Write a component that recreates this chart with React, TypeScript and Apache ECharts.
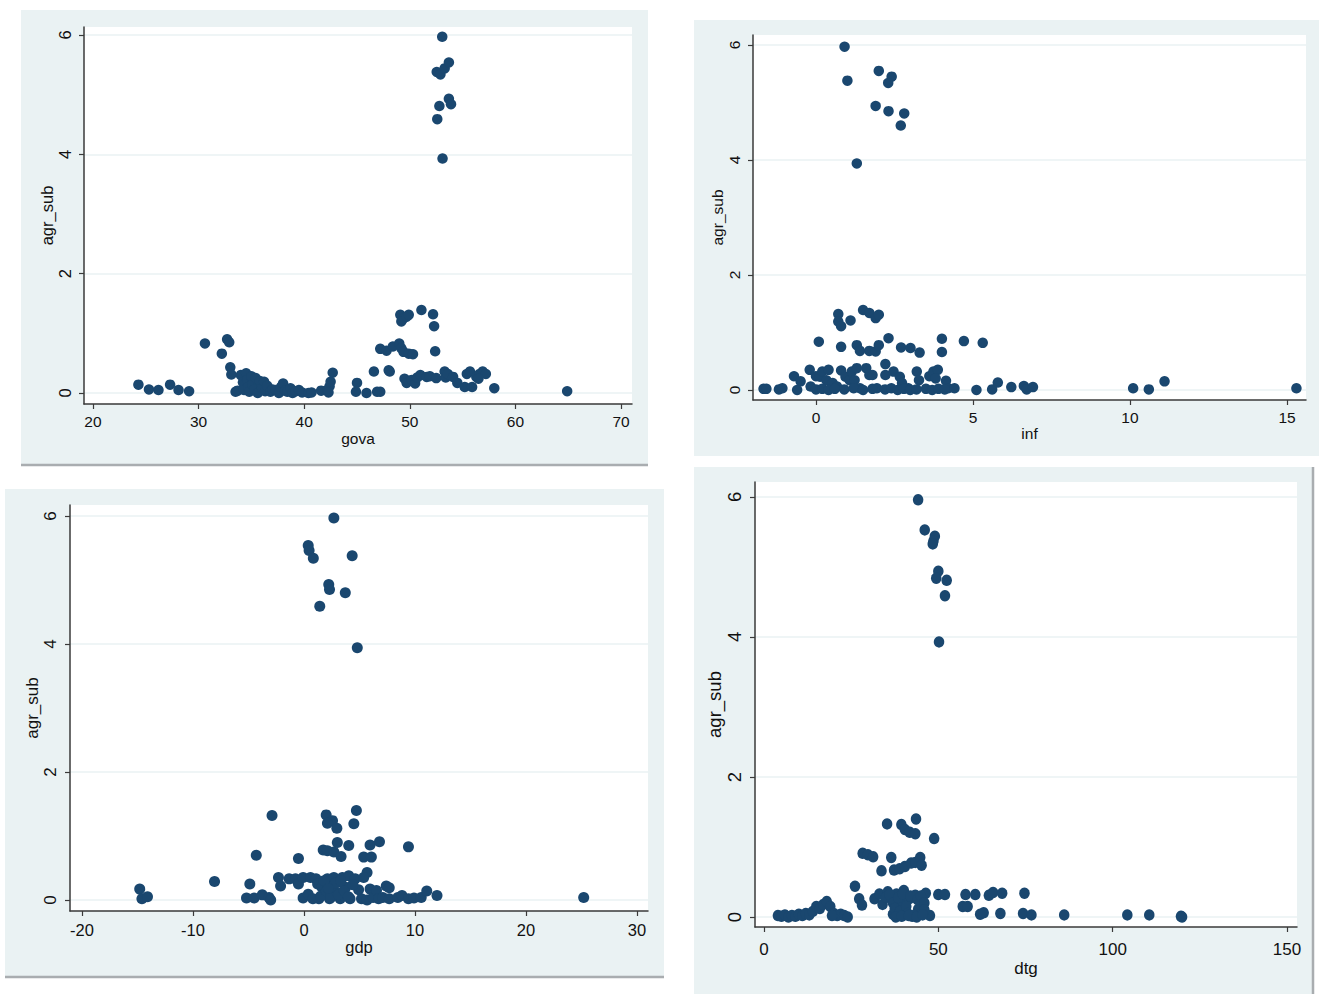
import React, { useEffect, useRef } from "react";
import * as echarts from "echarts";

// ---------- data ----------
const yTitle = "agr_sub";
const yTicks = [0, 2, 4, 6];
const govaTicks = [20, 30, 40, 50, 60, 70];
const infTicks = [0, 5, 10, 15];
const gdpTicks = [-20, -10, 0, 10, 20, 30];
const dtgTicks = [0, 50, 100, 150];
const xTitles = ["gova", "inf", "gdp", "dtg"];

const govaPoints: [number, number][] = [
  [53.07, 5.97], [52.55, 5.38], [52.9, 5.34], [53.3, 5.44], [53.7, 5.54], [53.7, 4.93], [53.9, 4.84], [52.8, 4.81], [52.6, 4.59], [53.1, 3.93],
  [24.3, 0.14], [25.3, 0.06], [26.2, 0.05], [27.3, 0.14], [28.1, 0.05], [29.1, 0.03], [30.6, 0.83], [32.2, 0.66], [32.7, 0.9], [32.9, 0.85], [33.0, 0.43], [33.1, 0.31],
  [33.5, 0.02], [33.7, 0.04], [34.0, 0.3], [34.2, 0.18], [34.3, 0.05], [34.5, 0.33], [34.6, 0.22], [34.7, 0.1], [34.8, 0.02], [35.0, 0.28], [35.1, 0.14], [35.3, 0.06],
  [35.4, 0.25], [35.6, 0.0], [35.8, 0.2], [36.0, 0.08], [36.2, 0.19], [36.3, 0.03], [36.5, 0.12], [36.8, 0.02], [37.0, 0.06], [37.3, 0.05], [37.6, 0.0], [37.8, 0.1],
  [38.0, 0.16], [38.2, 0.04], [38.4, 0.02], [38.7, 0.08], [38.9, 0.0], [39.2, 0.03], [39.5, 0.05], [39.8, 0.01], [40.4, 0.0], [40.7, 0.01], [41.6, 0.04], [42.2, 0.05],
  [42.4, 0.11], [42.5, 0.19], [42.7, 0.34], [42.3, 0.01],
  [45.0, 0.17], [44.9, 0.02], [45.9, 0.0], [46.9, 0.02], [47.2, 0.02], [46.6, 0.36], [48.1, 0.36], [48.0, 0.38],
  [47.2, 0.74], [47.8, 0.71], [48.4, 0.78], [49.0, 0.83], [49.2, 0.75], [49.4, 0.69], [49.9, 0.66], [50.3, 0.65],
  [49.1, 1.31], [49.4, 1.25], [49.2, 1.2], [49.7, 1.28], [49.9, 1.31], [51.1, 1.39], [52.2, 1.32], [52.3, 1.12], [52.4, 0.7],
  [49.5, 0.24], [49.7, 0.17], [50.2, 0.22], [50.5, 0.16], [50.7, 0.26], [51.0, 0.3], [51.6, 0.27], [51.9, 0.28], [52.5, 0.25],
  [53.3, 0.36], [53.4, 0.26], [53.6, 0.32], [54.1, 0.27], [54.5, 0.17], [55.2, 0.1], [55.4, 0.32], [55.7, 0.36], [55.9, 0.1],
  [56.3, 0.27], [56.6, 0.32], [56.9, 0.36], [57.2, 0.32], [56.5, 0.24], [58.0, 0.08], [64.9, 0.03],
];

const infPoints: [number, number][] = [
  [0.91, 5.97], [1.0, 5.38], [2.0, 5.55], [2.41, 5.45], [2.3, 5.34], [1.9, 4.94], [2.31, 4.85], [2.81, 4.81], [2.7, 4.6], [1.3, 3.94],
  [1.5, 1.39], [1.7, 1.34], [1.9, 1.25], [2.0, 1.31], [0.71, 1.32], [0.71, 1.19], [0.8, 1.11], [1.1, 1.21],
  [0.09, 0.84], [0.8, 0.75], [1.3, 0.78], [1.4, 0.68], [1.7, 0.68], [1.9, 0.67], [2.0, 0.78], [2.31, 0.9], [2.71, 0.74], [3.01, 0.73],
  [3.3, 0.65], [4.01, 0.89], [4.01, 0.66], [4.71, 0.85], [5.31, 0.82],
  [-1.67, 0.02], [-1.58, 0.02], [-1.18, 0.01], [-1.07, 0.03], [-0.7, 0.24], [-0.49, 0.15], [-0.6, 0.0], [-0.2, 0.35], [-0.17, 0.06],
  [0.0, 0.24], [0.13, 0.23], [0.2, 0.32], [0.4, 0.35], [0.33, 0.17], [0.53, 0.12], [0.67, 0.06], [0.8, 0.34], [0.94, 0.23], [1.07, 0.17],
  [1.14, 0.32], [1.23, 0.17], [1.3, 0.38], [1.4, 0.03], [1.6, 0.38], [1.7, 0.26], [1.8, 0.26], [1.94, 0.03], [2.21, 0.45], [2.21, 0.26],
  [2.47, 0.32], [2.67, 0.23], [2.74, 0.12], [2.94, 0.03], [3.21, 0.32], [3.28, 0.17], [3.61, 0.24], [3.74, 0.32], [3.88, 0.35], [3.81, 0.2],
  [4.14, 0.16], [4.21, 0.03], [4.41, 0.03], [5.11, 0.0], [5.61, 0.01], [5.79, 0.13], [6.22, 0.05], [6.62, 0.07], [6.71, 0.01], [6.91, 0.05],
  [10.1, 0.03], [10.6, 0.01], [11.1, 0.15], [15.3, 0.03],
  [0.0, 0.01], [0.2, 0.02], [0.4, 0.0], [0.6, 0.02], [0.9, 0.01], [1.2, 0.03], [1.5, 0.0], [1.8, 0.02], [2.2, 0.01], [2.4, 0.03],
  [2.6, 0.0], [2.8, 0.02], [3.0, 0.0], [3.2, 0.01], [3.5, 0.02], [3.7, 0.0], [3.9, 0.02], [4.1, 0.01],
];

const gdpPoints: [number, number][] = [
  [2.69, 5.97], [0.38, 5.54], [0.46, 5.46], [0.84, 5.34], [4.34, 5.38], [2.23, 4.93], [2.3, 4.85], [3.72, 4.8], [1.42, 4.59], [4.8, 3.94],
  [-2.88, 1.32], [2.0, 1.33], [2.57, 1.24], [2.11, 1.2], [2.96, 1.12], [4.72, 1.4], [4.49, 1.19],
  [-4.3, 0.7], [-0.5, 0.65], [1.73, 0.78], [2.11, 0.77], [3.0, 0.9], [2.69, 0.75], [3.34, 0.68], [4.03, 0.85], [5.38, 0.67],
  [5.95, 0.86], [6.07, 0.67], [6.8, 0.91], [9.41, 0.83], [5.68, 0.43],
  [-14.8, 0.17], [-14.6, 0.02], [-14.1, 0.05], [-8.06, 0.29], [-4.88, 0.25], [-5.18, 0.03], [-4.49, 0.03], [-3.76, 0.08], [-3.15, 0.04], [-3.0, 0.0],
  [-2.3, 0.35], [-2.11, 0.22], [-1.34, 0.33], [-0.77, 0.33], [-0.5, 0.25], [-0.08, 0.35], [-0.08, 0.03], [0.38, 0.09], [0.58, 0.35], [1.08, 0.33],
  [1.23, 0.25], [1.34, 0.02], [1.61, 0.2], [1.92, 0.09], [2.11, 0.33], [2.3, 0.02], [2.5, 0.22], [2.69, 0.35], [2.88, 0.12], [3.07, 0.28],
  [3.26, 0.02], [3.46, 0.35], [3.76, 0.2], [4.03, 0.38], [4.15, 0.02], [4.61, 0.33], [4.92, 0.16], [5.18, 0.02], [5.38, 0.35], [5.68, 0.0],
  [5.95, 0.17], [6.22, 0.04], [6.53, 0.15], [6.72, 0.02], [7.1, 0.04], [7.41, 0.22], [7.68, 0.19], [7.68, 0.02], [8.45, 0.04], [8.83, 0.07],
  [9.41, 0.02], [9.91, 0.03], [10.56, 0.04], [11.06, 0.14], [11.98, 0.07], [25.2, 0.04],
  [0.8, 0.02], [1.5, 0.06], [2.0, 0.14], [2.4, 0.04], [2.8, 0.26], [3.1, 0.08], [3.6, 0.15], [4.0, 0.05], [4.4, 0.24], [1.8, 0.3], [2.2, 0.18], [3.3, 0.3],
];

const dtgPoints: [number, number][] = [
  [44.2, 5.96], [46.1, 5.53], [49.0, 5.44], [48.6, 5.37], [48.4, 5.33], [50.0, 4.94], [49.4, 4.84], [52.4, 4.81], [51.9, 4.59], [50.2, 3.93],
  [35.3, 1.33], [39.4, 1.32], [40.4, 1.25], [41.8, 1.21], [43.4, 1.19], [43.6, 1.4], [48.8, 1.12],
  [28.3, 0.91], [29.8, 0.89], [31.3, 0.86], [36.5, 0.85], [33.7, 0.66], [37.3, 0.67], [38.9, 0.69], [40.4, 0.72], [42.2, 0.77], [43.4, 0.78],
  [44.8, 0.85], [45.2, 0.74], [26.1, 0.44],
  [27.3, 0.26], [28.1, 0.17], [31.7, 0.26], [33.1, 0.33], [34.0, 0.18], [35.5, 0.36], [36.5, 0.26], [37.0, 0.04], [38.0, 0.33], [39.2, 0.21],
  [40.1, 0.38], [40.4, 0.04], [41.6, 0.26], [42.5, 0.01], [43.4, 0.31], [44.2, 0.11], [44.9, 0.04], [45.4, 0.27], [46.4, 0.34], [47.6, 0.02],
  [50.0, 0.32], [51.9, 0.32], [57.0, 0.15], [58.4, 0.15], [57.8, 0.32], [60.6, 0.32], [62.0, 0.04], [63.0, 0.06], [64.5, 0.31], [65.7, 0.35],
  [68.3, 0.34], [67.8, 0.05], [74.7, 0.34], [74.3, 0.05], [76.7, 0.03], [86.1, 0.03], [104.2, 0.03], [110.5, 0.03], [119.6, 0.01], [119.9, 0.0],
  [4, 0.02], [5, 0.01], [6, 0.03], [7, 0.0], [8, 0.02], [9, 0.01], [10, 0.04], [11, 0.02], [12, 0.05], [13, 0.03], [14, 0.08], [15, 0.15],
  [16, 0.12], [17, 0.18], [18, 0.22], [19, 0.15], [20, 0.05], [21, 0.02], [22, 0.04], [23, 0.02], [24, 0.0], [19.5, 0.02],
  [35.0, 0.28], [36, 0.32], [37, 0.2], [37.5, 0.12], [38.5, 0.28], [39, 0.08], [39.8, 0.33], [40.8, 0.15], [41.2, 0.05], [42, 0.3],
  [43, 0.02], [44, 0.25], [45, 0.3], [46, 0.2], [46, 0.1], [37.8, 0.0], [39.5, 0.01], [41.5, 0.02], [43.8, 0.0], [45.5, 0.03],
];

// ---------- layout ----------
const MARKER = "#1A476F";
const BG = "#EAF2F3";
const AXIS = "#3a3a3a";
const FONT = "'Liberation Sans', Arial, sans-serif";

type Panel = {
  bg: [number, number, number, number];
  shadow: [number, number, number, number];
  plot: [number, number, number, number]; // left, top, right, bottom
  x: [number, number];
  y: [number, number];
  ticks: number[];
  points: [number, number][];
  font: number;
  yFont: number;
  labMargin: number;
  nameGap: number;
  yNameGap: number;
  sym: number | number[];
};

const panels: Panel[] = [
  { bg: [21, 10, 648, 466], shadow: [21, 465, 648, 465], plot: [84, 27, 632, 404], x: [19.148, 71.04], y: [-0.184, 6.134], ticks: govaTicks, points: govaPoints, font: 15.5, yFont: 16.5, labMargin: 9, nameGap: 26, yNameGap: 28, sym: 10.5 },
  { bg: [694, 20, 1319, 456], shadow: [0, 0, 0, 0], plot: [753, 35, 1306, 400], x: [-2.006, 15.605], y: [-0.174, 6.174], ticks: infTicks, points: infPoints, font: 15.5, yFont: 15.5, labMargin: 9, nameGap: 25, yNameGap: 28, sym: 10.5 },
  { bg: [5, 489, 664, 978], shadow: [5, 977, 664, 977], plot: [70, 505, 648, 911], x: [-21.081, 30.991], y: [-0.172, 6.172], ticks: gdpTicks, points: gdpPoints, font: 16.5, yFont: 17, labMargin: 10, nameGap: 27, yNameGap: 28, sym: 11 },
  { bg: [694, 467, 1312, 994], shadow: [1313, 467, 1313, 994], plot: [755, 482, 1297, 927], x: [-2.581, 152.868], y: [-0.143, 6.214], ticks: dtgTicks, points: dtgPoints, font: 17, yFont: 18.5, labMargin: 14, nameGap: 33, yNameGap: 27, sym: [10.5, 11.5] },
];

export default function App() {
  const ref = useRef<HTMLDivElement>(null);
  useEffect(() => {
    if (!ref.current) return;
    const chart = echarts.init(ref.current, undefined, { renderer: "svg" });
    const graphic: any[] = [];
    panels.forEach((p) => {
      graphic.push({ type: "rect", z: -20, silent: true, shape: { x: p.bg[0], y: p.bg[1], width: p.bg[2] - p.bg[0], height: p.bg[3] - p.bg[1] }, style: { fill: BG } });
      if (p.shadow[2] > 0) {
        graphic.push({ type: "line", z: -15, silent: true, shape: { x1: p.shadow[0], y1: p.shadow[1], x2: p.shadow[2], y2: p.shadow[3] }, style: { stroke: "#a9adb0", lineWidth: 2.5 } });
      }
      graphic.push({ type: "rect", z: -10, silent: true, shape: { x: p.plot[0], y: p.plot[1], width: p.plot[2] - p.plot[0], height: p.plot[3] - p.plot[1] }, style: { fill: "#ffffff" } });
    });
    const option: any = {
      animation: false,
      backgroundColor: "#ffffff",
      textStyle: { fontFamily: FONT },
      graphic,
      grid: panels.map((p) => ({
        left: p.plot[0], top: p.plot[1], width: p.plot[2] - p.plot[0], height: p.plot[3] - p.plot[1], containLabel: false,
      })),
      xAxis: panels.map((p, i) => ({
        type: "value", gridIndex: i, min: p.x[0], max: p.x[1],
        name: xTitles[i], nameLocation: "middle", nameGap: p.nameGap,
        nameTextStyle: { fontSize: p.font, color: "#111", fontFamily: FONT },
        axisLine: { show: true, onZero: false, lineStyle: { color: AXIS, width: 1.5 } },
        axisTick: { show: true, length: 5, customValues: p.ticks, lineStyle: { color: AXIS, width: 1.2 } },
        axisLabel: { customValues: p.ticks, margin: p.labMargin, fontSize: p.font, color: "#111", fontFamily: FONT },
        splitLine: { show: false },
      })),
      yAxis: panels.map((p, i) => ({
        type: "value", gridIndex: i, min: p.y[0], max: p.y[1],
        name: yTitle, nameLocation: "middle", nameGap: p.yNameGap, nameRotate: 90,
        nameTextStyle: { fontSize: p.yFont, color: "#111", fontFamily: FONT },
        axisLine: { show: true, onZero: false, lineStyle: { color: AXIS, width: 1.5 } },
        axisTick: { show: true, length: 5, customValues: yTicks, lineStyle: { color: AXIS, width: 1.2 } },
        axisLabel: { customValues: yTicks, rotate: 90, margin: 11, fontSize: p.yFont, color: "#111", fontFamily: FONT },
        splitLine: { show: true, lineStyle: { color: BG, width: 1.5 } },
      })),
      series: panels.map((p, i) => ({
        type: "scatter", xAxisIndex: i, yAxisIndex: i, data: p.points, symbol: "circle", symbolSize: p.sym,
        itemStyle: { color: MARKER, opacity: 1 }, silent: true,
      })),
    };
    chart.setOption(option);
    return () => chart.dispose();
  }, []);
  return <div ref={ref} style={{ position: "fixed", left: 0, top: 0, width: 1319, height: 994 }} />;
}
